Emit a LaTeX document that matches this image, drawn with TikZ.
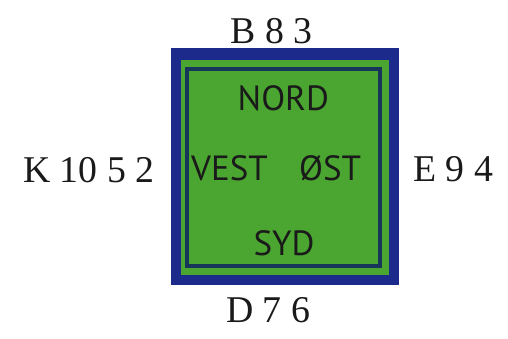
\documentclass[tikz,border=0pt]{standalone}
\usepackage{fontspec}
\setmainfont{Liberation Serif}
\newfontfamily\boxsans{PT Sans}
\definecolor{outerblue}{HTML}{1C2A8C}
\definecolor{fieldgreen}{HTML}{4AA630}
\definecolor{innerline}{HTML}{173558}
\definecolor{inktext}{HTML}{1A1A1A}
\begin{document}
\begin{tikzpicture}[x=1pt,y=-1pt,
  hand/.style={inner sep=0pt,font=\fontsize{37.8}{40}\selectfont,text=inktext},
  dir/.style={inner sep=0pt,font=\boxsans\fontsize{35}{38}\selectfont,text=inktext}]
\useasboundingbox (0,0) rectangle (508,338);
% table
\fill[outerblue] (171,48) rectangle (399,285);
\fill[fieldgreen] (181,59.5) rectangle (388.5,275);
\draw[innerline,line width=4pt] (186.5,69) rectangle (379.5,265.5);
\coordinate (table) at (285,166.5);
% directions
\node[dir,anchor=base] (nord) at (283.3,110) {NORD};
\node[dir,anchor=base west] (vest) at (191,180) {VEST};
\node[dir,anchor=base west] (ost) at (299,180) {ØST};
\node[dir,anchor=base] (syd) at (284,255) {SYD};
% hands
\node[hand,anchor=base] (north) at (271.7,43) {B 8 3};
\node[hand,anchor=base west] (west) at (23,182.5) {K 10 5 2};
\node[hand,anchor=base west] (east) at (413,181.5) {E 9 4};
\node[hand,anchor=base] (south) at (268,322) {D 7 6};
\end{tikzpicture}
\end{document}
